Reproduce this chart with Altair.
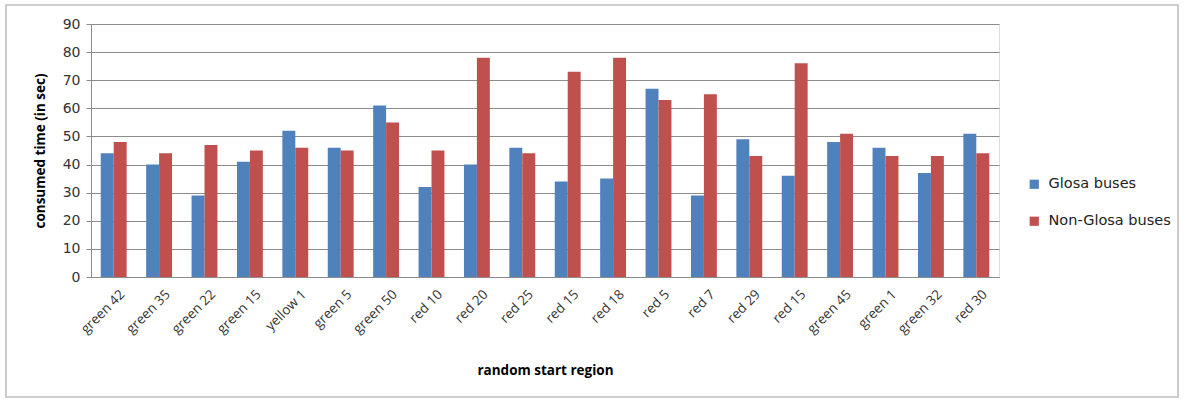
import json
import altair as alt
import pandas as pd

# Start regions (two distinct runs both start in "red 15")
regions = ["green 42", "green 35", "green 22", "green 15", "yellow 1", "green 5",
           "green 50", "red 10", "red 20", "red 25", "red 15", "red 18", "red 5",
           "red 7", "red 29", "red 15", "green 45", "green 1", "green 32", "red 30"]
glosa = [44, 40, 29, 41, 52, 46, 61, 32, 40, 46, 34, 35, 67, 29, 49, 36, 48, 46, 37, 51]
non_glosa = [48, 44, 47, 45, 46, 45, 55, 45, 78, 44, 73, 78, 63, 65, 43, 76, 51, 43, 43, 44]
series = ["Glosa buses", "Non-Glosa buses"]
colors = ["#4F81BD", "#C0504D"]

rows = []
for i, r in enumerate(regions):
    rows.append({"idx": i, "region": r, "series": series[0], "value": glosa[i]})
    rows.append({"idx": i, "region": r, "series": series[1], "value": non_glosa[i]})
df = pd.DataFrame(rows)

label_expr = json.dumps(regions) + "[datum.value]"

W, H = 908, 253

bars = alt.Chart(df).mark_bar().encode(
    x=alt.X("idx:O",
            scale=alt.Scale(paddingInner=0.43, paddingOuter=0.215),
            axis=alt.Axis(title="random start region", labelExpr=label_expr,
                          labelAngle=-45, labelFont="Open Sans", labelFontSize=13.5,
                          labelColor="#333333", labelPadding=10, labelOffset=4,
                          ticks=False, domainColor="#8c8c8c", titleFont="Open Sans",
                          titleFontSize=13.5, titleFontWeight="bold",
                          titleColor="#000000", titleY=93, titleBaseline="middle")),
    xOffset=alt.XOffset("series:N", sort=series),
    y=alt.Y("value:Q",
            scale=alt.Scale(domain=[0, 90], nice=False),
            axis=alt.Axis(title="consumed time (in sec)", values=list(range(0, 91, 10)),
                          labelFont="DejaVu Sans", labelFontSize=14, labelColor="#333333",
                          labelPadding=6, tickSize=5, tickColor="#8c8c8c",
                          domainColor="#8c8c8c", gridColor="#8c8c8c", gridWidth=1,
                          titleFont="Open Sans", titleFontSize=13.5, titleFontWeight="bold",
                          titleColor="#000000", titleX=-51, titleY=H / 2,
                          titleAlign="center", titleBaseline="middle", titleAngle=-90)),
    color=alt.Color("series:N", sort=series,
                    scale=alt.Scale(domain=series, range=colors),
                    legend=alt.Legend(title=None, orient="none", legendX=936, legendY=153,
                                      symbolType="square", symbolSize=85,
                                      symbolStrokeWidth=0, labelFont="DejaVu Sans",
                                      labelFontSize=14.5, labelColor="#222222",
                                      rowPadding=22, labelOffset=7)),
)

# Light frame around the whole chart
frame = alt.Chart(pd.DataFrame({"f": [0]})).mark_rect(
    fill=None, stroke="#bdbdbd", strokeWidth=1.5, clip=False
).encode(x=alt.value(-85), x2=alt.value(1087), y=alt.value(-19), y2=alt.value(373))

chart = alt.layer(frame, bars).properties(
    width=W, height=H,
    autosize=alt.AutoSizeParams(type="none"),
    padding={"left": 91, "top": 24, "right": 187, "bottom": 123},
).configure_view(stroke=None).configure(background="white")

chart.save("out.html", embed_options={"renderer": "svg", "actions": False})
